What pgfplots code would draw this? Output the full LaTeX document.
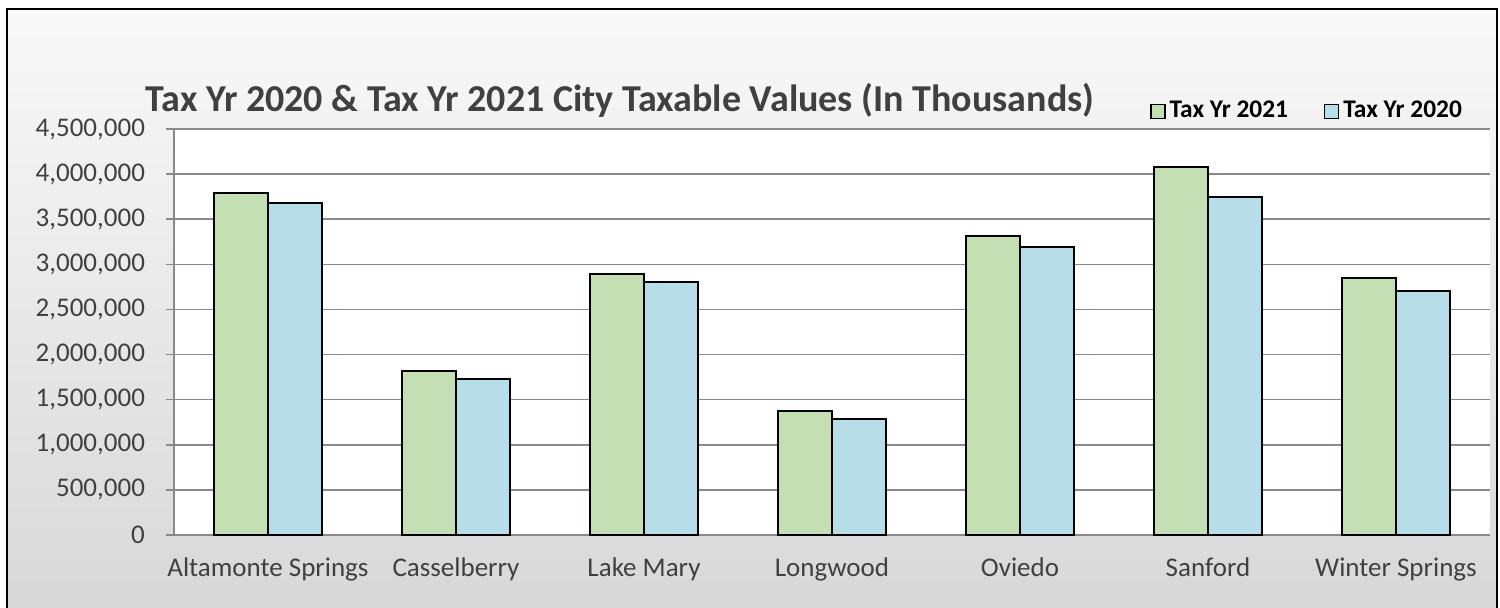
\documentclass[border=0pt]{standalone}
\usepackage{fontspec}
\setmainfont{Carlito}
\usepackage{pgfplots}
\pgfplotsset{compat=1.18}
\definecolor{bgtop}{RGB}{249,249,249}
\definecolor{bgbot}{RGB}{216,216,216}
\definecolor{grn}{RGB}{196,223,179}
\definecolor{blu}{RGB}{183,221,232}
\definecolor{gridc}{RGB}{137,137,137}
\definecolor{txt}{RGB}{64,64,64}
\begin{document}
\begin{tikzpicture}[x=1pt,y=1pt]
\useasboundingbox (0,0) rectangle (750,303.5);
\shade[top color=bgtop, bottom color=bgbot] (3.5,0) rectangle (748.5,299);
\draw[line width=1.2pt] (3.5,-3) -- (3.5,299) -- (748.5,299) -- (748.5,-3);
\coordinate (A) at (87,36);
\begin{axis}[
  at={(A)}, anchor=south west,
  scale only axis, width=658pt, height=203pt,
  ybar=0pt, bar width=27pt,
  xmin=-0.5, xmax=6.5, ymin=0, ymax=4500000,
  axis background/.style={fill=white},
  axis x line*=bottom, axis y line*=left,
  axis line style={gridc, line width=0.8pt},
  xtick={0,1,2,3,4,5,6},
  xticklabels={Altamonte Springs, Casselberry, Lake Mary, Longwood, Oviedo, Sanford, Winter Springs},
  xtick style={draw=none},
  minor xtick={-0.5,0.5,1.5,2.5,3.5,4.5,5.5,6.5},
  minor x tick style={gridc, line width=0.8pt},
  ytick={0,500000,...,4500000},
  ytick style={gridc, line width=0.8pt},
  tick align=outside, major tick length=4pt, minor tick length=4pt,
  ymajorgrids, grid style={gridc, line width=0.8pt},
  scaled y ticks=false,
  /pgf/number format/fixed,
  /pgf/number format/1000 sep={,},
  /pgf/number format/assume math mode=true,
  ticklabel style={font=\fontsize{13.5}{15}\selectfont, text=txt},
  xticklabel style={yshift=-4pt},
  yticklabel style={xshift=-7pt},
  legend columns=2,
  legend style={draw=none, fill=none, at={(0.982,1.044)}, anchor=east,
    font=\bfseries\fontsize{12.7}{14}\selectfont,
    /tikz/every even column/.append style={column sep=16pt},
    inner sep=0pt},
]
\addplot[fill=grn, draw=black, line width=1pt,
  legend image code/.code={\draw[fill=grn, draw=black, line width=0.6pt] (0pt,-3.5pt) rectangle (7pt,3.5pt);}]
  coordinates {(0,3788000) (1,1818000) (2,2893000) (3,1375000) (4,3318000) (5,4083000) (6,2853000)};
\addlegendentry{Tax Yr 2021}
\addplot[fill=blu, draw=black, line width=1pt,
  legend image code/.code={\draw[fill=blu, draw=black, line width=0.6pt] (0pt,-3.5pt) rectangle (7pt,3.5pt);}]
  coordinates {(0,3684000) (1,1729000) (2,2808000) (3,1283000) (4,3196000) (5,3744000) (6,2702000)};
\addlegendentry{Tax Yr 2020}
\end{axis}
\node[anchor=base, text=txt, font=\bfseries\fontsize{19}{22}\selectfont] at (310,248) {Tax Yr 2020 \& Tax Yr 2021 City Taxable Values (In Thousands)};
\end{tikzpicture}
\end{document}
